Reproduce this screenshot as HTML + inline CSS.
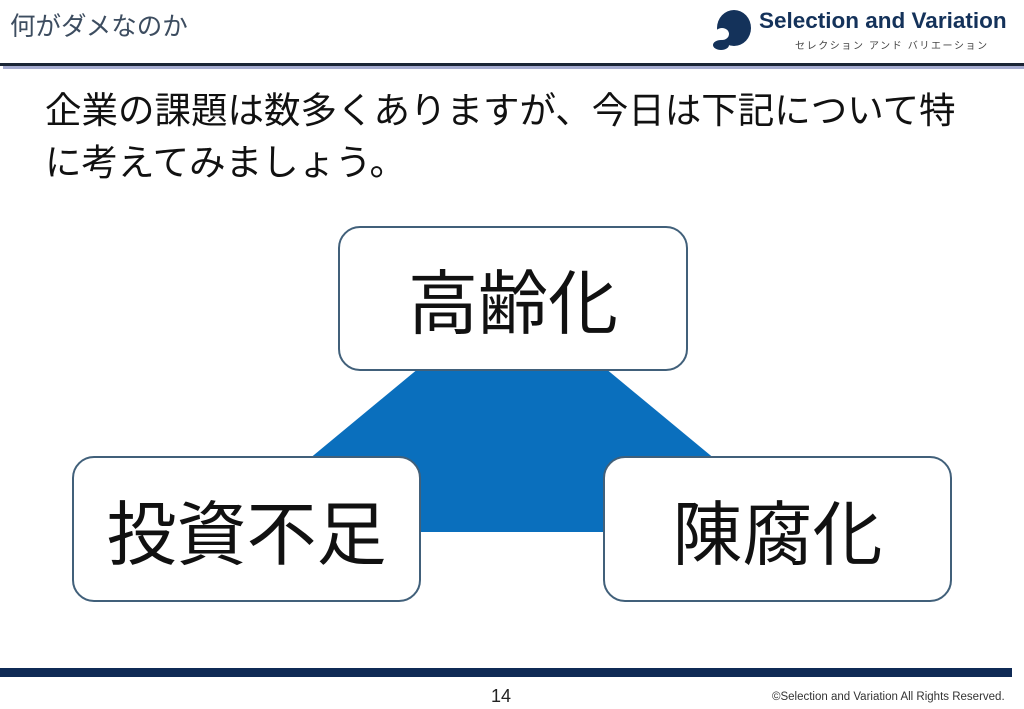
<!DOCTYPE html>
<html><head><meta charset="utf-8"><style>
body{margin:0;width:1024px;height:709px;background:#fff;position:relative;overflow:hidden;font-family:"Liberation Sans","Noto Sans CJK JP",sans-serif;}
.a{position:absolute;}
.box{position:absolute;background:#fff;border:2px solid #41607a;border-radius:22px;box-sizing:border-box;display:flex;align-items:center;justify-content:center;font-size:70px;color:#111;}
</style></head><body>
<div class="a" style="left:10px;top:6px;font-size:25.5px;color:#3d4d60;">何がダメなのか</div>
<svg class="a" style="left:712px;top:8px" width="40" height="44" viewBox="0 0 40 44"><ellipse cx="22" cy="20" rx="17" ry="18" fill="#14325a"/><ellipse cx="10" cy="26" rx="7" ry="6" fill="#fff"/><ellipse cx="9" cy="37" rx="8" ry="5" fill="#14325a"/></svg>
<div class="a" style="left:759px;top:8px;font-size:22.5px;font-weight:bold;color:#14325a;white-space:nowrap;">Selection and Variation</div>
<div class="a" style="left:795px;top:37px;font-size:10px;color:#444;letter-spacing:1.6px;white-space:nowrap;">セレクション アンド バリエーション</div>
<div class="a" style="left:0;top:63px;width:1024px;height:3px;background:#1a2535;"></div>
<div class="a" style="left:3px;top:66px;width:1021px;height:3px;background:#a5abd0;"></div>
<div class="a" style="left:45px;top:85px;font-size:36.5px;line-height:52px;color:#111;width:980px;white-space:nowrap;">企業の課題は数多くありますが、今日は下記について特<br>に考えてみましょう。</div>
<svg class="a" style="left:0;top:0" width="1024" height="709"><polygon points="512,291 803,532 221,532" fill="#0a6fbd"/></svg>
<div class="box" style="left:338px;top:226px;width:350px;height:145px;">高齢化</div>
<div class="box" style="left:72px;top:456px;width:349px;height:146px;">投資不足</div>
<div class="box" style="left:603px;top:456px;width:349px;height:146px;">陳腐化</div>
<div class="a" style="left:0;top:668px;width:1012px;height:9px;background:#0f2a55;"></div>
<div class="a" style="left:491px;top:686px;font-size:18px;color:#222;">14</div>
<div class="a" style="left:772px;top:691px;font-size:11.5px;color:#333;white-space:nowrap;">©Selection and Variation All Rights Reserved.</div>
</body></html>
